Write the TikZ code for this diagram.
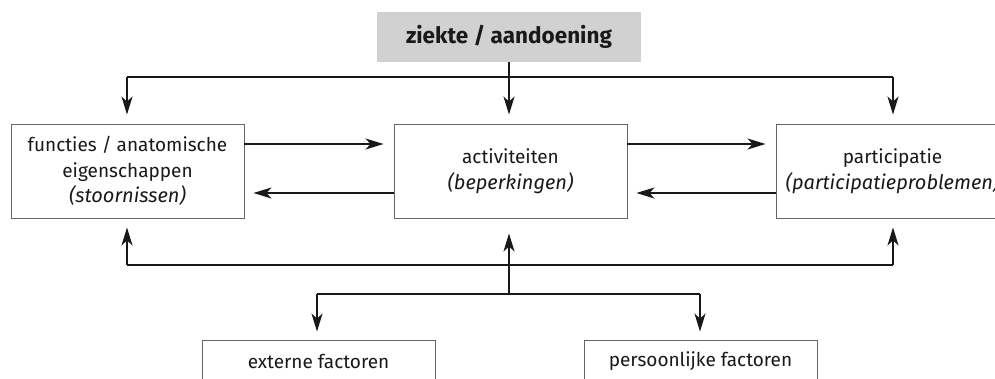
\documentclass[tikz,border=0pt]{standalone}
\usepackage{fontspec}
\setmainfont{Fira Sans}
\usetikzlibrary{arrows.meta}
\newcommand{\itlabel}[1]{{\fontsize{20}{25.5}\selectfont\itshape #1}}
\tikzset{
  box/.style={draw=black!60, line width=0.9pt, align=center, text=black!90,
    minimum width=233pt, minimum height=94pt, inner sep=0pt,
    font=\fontsize{19}{25.5}\selectfont},
  smallbox/.style={box, minimum height=42pt},
  topbox/.style={fill=black!18, draw=none, minimum width=264pt, minimum height=50pt,
    inner sep=0pt, text=black!90, font=\fontsize{22.5}{26}\selectfont\bfseries},
  conn/.style={line width=1.9pt, black!90},
  arr/.style={conn, -{Stealth[length=18pt, width=11pt, inset=5pt]}},
}
\begin{document}
\begin{tikzpicture}[x=1pt, y=-1pt]
\useasboundingbox (0,0) rectangle (995,378);
\clip (0,0) rectangle (995,378);
\fill[white] (0,0) rectangle (995,378);

\node[topbox] (top) at (509,37) {ziekte / aandoening};
\node[box] (left) at (127.5,171) {functies / anatomische\\eigenschappen\\\itlabel{(stoornissen)}};
\node[box] (mid) at (510.5,171) {activiteiten\\\itlabel{(beperkingen)}};
\node[box] (right) at (892.5,171) {participatie\\\itlabel{(participatieproblemen)}};
\node[smallbox] (ext) at (318.5,361) {externe factoren};
\node[smallbox] (pers) at (700.5,361) {persoonlijke factoren};

\coordinate (tl) at (127,77);
\coordinate (tr) at (893,77);
\coordinate (bl) at (127,265);
\coordinate (br) at (893,265);
\coordinate (fm) at (509,294);
\coordinate (fl) at (317,294);
\coordinate (fr) at (700,294);

% top distribution
\draw[arr, shorten >=9pt] (top.south) -- (top.south |- mid.north);
\draw[conn] (tl) -- (tr);
\draw[arr, shorten >=9pt] (tl) -- (tl |- left.north);
\draw[arr, shorten >=9pt] (tr) -- (tr |- right.north);

% horizontal interactions
\draw[arr, shorten >=10pt] ([yshift=27pt]left.east) -- ([yshift=27pt]mid.west);
\draw[arr, shorten >=9pt] ([yshift=-22pt]mid.west) -- ([yshift=-22pt]left.east);
\draw[arr, shorten >=10pt] ([yshift=27pt]mid.east) -- ([yshift=27pt]right.west);
\draw[arr, shorten >=9pt] ([yshift=-22pt]right.west) -- ([yshift=-22pt]mid.east);

% bottom
\draw[conn] (bl) -- (br);
\draw[arr, shorten >=9pt] (bl) -- (bl |- left.south);
\draw[arr, shorten >=9pt] (br) -- (br |- right.south);
\draw[arr, shorten >=15pt] (fm) -- (fm |- mid.south);
\draw[conn] (fl) -- (fr);
\draw[arr, shorten >=8pt] (fl) -- (fl |- ext.north);
\draw[arr, shorten >=8pt] (fr) -- (fr |- pers.north);
\end{tikzpicture}
\end{document}
